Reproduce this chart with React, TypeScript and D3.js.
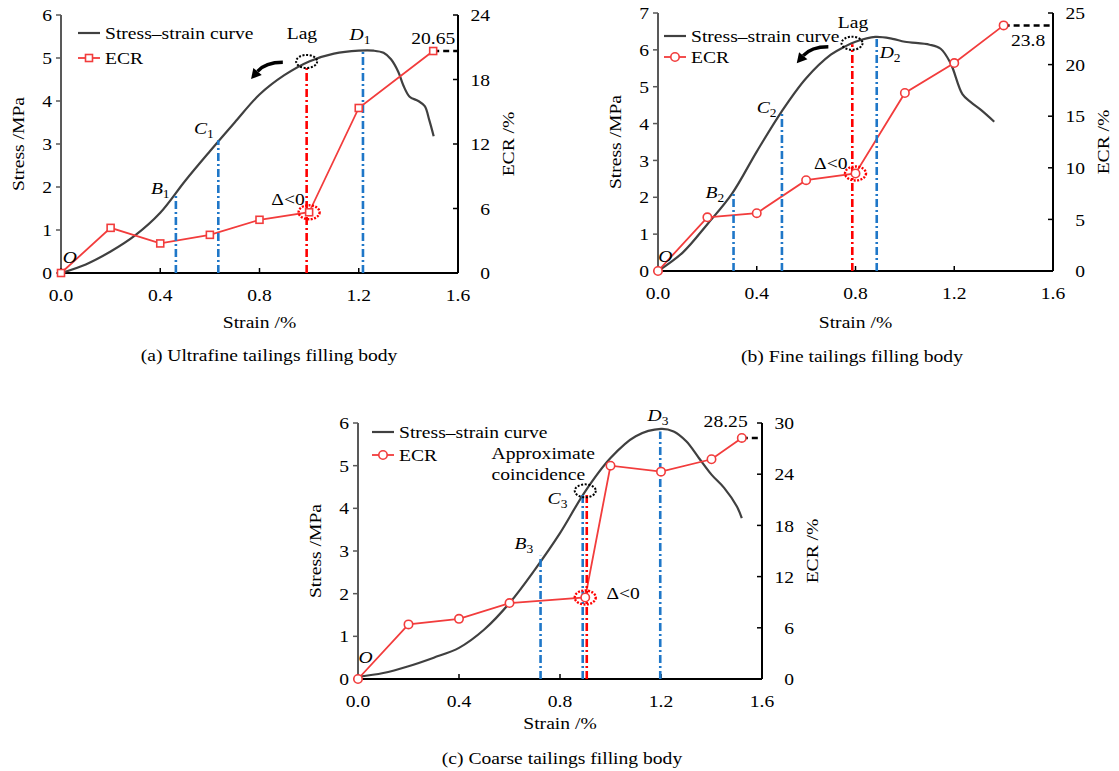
import React from "react";
import * as d3 from "d3";

// ---- data ----
const strainTicks = [0, 0.4, 0.8, 1.2, 1.6];

// (a) ultrafine
const stressA: [number, number][] = [
  [0, 0], [0.1, 0.2], [0.2, 0.5], [0.3, 0.88], [0.4, 1.4], [0.5, 2.14], [0.6, 2.83],
  [0.7, 3.5], [0.8, 4.15], [0.9, 4.6], [1.0, 4.92], [1.1, 5.1], [1.2, 5.17], [1.26, 5.17],
  [1.3, 5.12], [1.33, 4.97], [1.36, 4.67], [1.38, 4.36], [1.405, 4.1], [1.44, 4.0],
  [1.466, 3.88], [1.484, 3.56], [1.502, 3.18],
];
const ecrStrainA = [0, 0.2, 0.4, 0.6, 0.8, 1.0, 1.2, 1.5];
const ecrA = [0, 4.2, 2.75, 3.55, 4.95, 5.65, 15.35, 20.65];
const stressTicksA = [0, 1, 2, 3, 4, 5, 6];
const ecrTicksA = [0, 6, 12, 18, 24];

// (b) fine
const stressB: [number, number][] = [
  [0, 0], [0.1, 0.5], [0.2, 1.27], [0.3, 2.1], [0.4, 3.24], [0.5, 4.32], [0.6, 5.23],
  [0.7, 5.87], [0.757, 6.09], [0.8, 6.22], [0.88, 6.35], [0.95, 6.3], [1.0, 6.22],
  [1.1, 6.14], [1.145, 6.03], [1.185, 5.64], [1.233, 4.8], [1.267, 4.58], [1.308, 4.37],
  [1.362, 4.05],
];
const ecrStrainB = [0, 0.2, 0.4, 0.6, 0.8, 1.0, 1.2, 1.4];
const ecrB = [0, 5.2, 5.6, 8.8, 9.45, 17.25, 20.15, 23.8];
const stressTicksB = [0, 1, 2, 3, 4, 5, 6, 7];
const ecrTicksB = [0, 5, 10, 15, 20, 25];

// (c) coarse
const stressC: [number, number][] = [
  [0, 0.05], [0.1, 0.14], [0.2, 0.3], [0.3, 0.5], [0.4, 0.73], [0.5, 1.16], [0.6, 1.78],
  [0.7, 2.56], [0.8, 3.42], [0.9, 4.4], [1.0, 5.18], [1.1, 5.69], [1.2, 5.86], [1.25, 5.8],
  [1.3, 5.57], [1.35, 5.18], [1.4, 4.79], [1.45, 4.48], [1.5, 4.05], [1.52, 3.77],
];
const ecrStrainC = [0, 0.2, 0.4, 0.6, 0.9, 1.0, 1.2, 1.4, 1.52];
const ecrC = [0, 6.4, 7.05, 8.9, 9.55, 25.0, 24.3, 25.75, 28.25];
const stressTicksC = [0, 1, 2, 3, 4, 5, 6];
const ecrTicksC = [0, 6, 12, 18, 24, 30];

// stage lines: strain, stress at top, lag?
const guidesA = [[0.463, 1.82, 0], [0.634, 3.09, 0], [0.99, 4.8, 1], [1.217, 5.17, 0]];
const guidesB = [[0.306, 2.1, 0], [0.502, 4.34, 0], [0.787, 6.15, 1], [0.886, 6.35, 0]];
const guidesC = [[0.723, 2.89, 0], [0.89, 4.35, 0], [0.906, 4.38, 1], [1.197, 5.8, 0]];

type Lbl = { t: string; sub?: string; it?: boolean; s: number; v: number; start?: boolean };
const labelsA: Lbl[] = [
  { t: "Lag", s: 0.971, v: 5.58 },
  { t: "D", sub: "1", it: true, s: 1.205, v: 5.56 },
  { t: "C", sub: "1", it: true, s: 0.576, v: 3.37 },
  { t: "B", sub: "1", it: true, s: 0.4, v: 1.98 },
  { t: "Δ<0", s: 0.915, v: 1.72 },
  { t: "O", it: true, s: 0.036, v: 0.37 },
  { t: "20.65", s: 1.5, v: 5.47 },
];
const labelsB: Lbl[] = [
  { t: "Lag", s: 0.79, v: 6.76 },
  { t: "D", sub: "2", it: true, s: 0.94, v: 5.94 },
  { t: "C", sub: "2", it: true, s: 0.44, v: 4.45 },
  { t: "B", sub: "2", it: true, s: 0.23, v: 2.14 },
  { t: "Δ<0", s: 0.7, v: 2.93 },
  { t: "O", it: true, s: 0.03, v: 0.41 },
  { t: "23.8", s: 1.499, v: 6.27 },
];
const labelsC: Lbl[] = [
  { t: "D", sub: "3", it: true, s: 1.188, v: 6.2 },
  { t: "28.25", s: 1.456, v: 6.06 },
  { t: "Approximate", s: 0.529, v: 5.31, start: true },
  { t: "coincidence", s: 0.529, v: 4.81, start: true },
  { t: "C", sub: "3", it: true, s: 0.79, v: 4.25 },
  { t: "B", sub: "3", it: true, s: 0.657, v: 3.19 },
  { t: "Δ<0", s: 1.05, v: 2.02 },
  { t: "O", it: true, s: 0.03, v: 0.52 },
];

const FONT = "'Liberation Serif', 'Times New Roman', serif";
const SX = 1.12;
const RED = "#f23c3c";
const BLUE = "#1f77c8";
const GREY = "#404040";

function T({ x, y, children, anchor = "middle", size = 17.5, rot = 0, italic = false }: any) {
  return (
    <text
      transform={`translate(${x},${y})${rot ? ` rotate(${rot})` : ""} scale(${SX},1)`}
      textAnchor={anchor}
      dy="0.35em"
      fontSize={size}
      fontFamily={FONT}
      fontStyle={italic ? "italic" : "normal"}
      fill="#000"
    >
      {children}
    </text>
  );
}

function Arrow({ from, to }: { from: number[]; to: number[] }) {
  const ctrl = [to[0] + (from[0] - to[0]) * 0.45, from[1]];
  const ang = Math.atan2(to[1] - ctrl[1], to[0] - ctrl[0]);
  const hb = [to[0] - 10 * Math.cos(ang), to[1] - 10 * Math.sin(ang)];
  const px = -Math.sin(ang), py = Math.cos(ang);
  return (
    <g>
      <path d={`M${from[0]},${from[1]} Q${ctrl[0]},${ctrl[1]} ${hb[0]},${hb[1]}`} fill="none" stroke="#000" strokeWidth={3.5} />
      <polygon points={`${to[0]},${to[1]} ${hb[0] + px * 5.5},${hb[1] + py * 5.5} ${hb[0] - px * 5.5},${hb[1] - py * 5.5}`} fill="#000" />
    </g>
  );
}

function Panel(p: any) {
  const { x0, x1, yb, yt } = p.box;
  const x = d3.scaleLinear().domain([0, 1.6]).range([x0, x1]);
  const y = d3.scaleLinear().domain([0, p.stressMax]).range([yb, yt]);
  const y2 = d3.scaleLinear().domain([0, p.ecrMax]).range([yb, yt]);
  const curve = d3.line<[number, number]>().x((d) => x(d[0])).y((d) => y(d[1])).curve(d3.curveCatmullRom.alpha(0.5));
  const ecrPts = p.ecrS.map((s: number, i: number) => [s, p.ecr[i]]);
  const ecrLine = d3.line<number[]>().x((d) => x(d[0])).y((d) => y2(d[1]));
  const last = ecrPts[ecrPts.length - 1];
  const lagS = p.lagEllipse;
  const dl = p.deltaAt;
  const marker = (d: number[], i: number) =>
    p.square ? (
      <rect key={i} x={x(d[0]) - 3.5} y={y2(d[1]) - 3.5} width={7} height={7} fill="#fff" stroke={RED} strokeWidth={1.6} />
    ) : (
      <circle key={i} cx={x(d[0])} cy={y2(d[1])} r={4.2} fill="#fff" stroke={RED} strokeWidth={1.6} />
    );
  const lg = p.legend;
  return (
    <g>
      {/* axes */}
      <line x1={x0} x2={x0} y1={yt} y2={yb} stroke="#595959" strokeWidth={2} />
      {p.stressTicks.map((t: number) => (
        <g key={"l" + t}>
          <line x1={x0 - 5} x2={x0} y1={y(t)} y2={y(t)} stroke="#595959" strokeWidth={1.5} />
          <T x={x0 - 9} y={y(t)} anchor="end">{t}</T>
        </g>
      ))}
      <line x1={x0} x2={x1} y1={yb} y2={yb} stroke="#000" strokeWidth={2} />
      {strainTicks.map((t) => (
        <g key={"b" + t}>
          <line x1={x(t)} x2={x(t)} y1={yb} y2={yb - 5} stroke="#000" strokeWidth={1.5} />
          <T x={x(t)} y={yb + 22}>{d3.format(".1f")(t)}</T>
        </g>
      ))}
      <line x1={x1} x2={x1} y1={yt} y2={yb} stroke="#000" strokeWidth={2} />
      {p.ecrTicks.map((t: number) => (
        <g key={"r" + t}>
          <line x1={x1 - 5} x2={x1} y1={y2(t)} y2={y2(t)} stroke="#000" strokeWidth={1.5} />
          <T x={x1 + 32} y={y2(t)} anchor="end">{t}</T>
        </g>
      ))}
      <T x={x0 - 43} y={(yt + yb) / 2} rot={-90}>Stress /MPa</T>
      <T x={x1 + 50} y={(yt + yb) / 2} rot={-90}>ECR /%</T>
      <T x={(x0 + x1) / 2} y={yb + p.titleGap}>Strain /%</T>
      <T x={p.capX} y={p.capY}>{p.caption}</T>

      {/* curves */}
      <path d={curve(p.stress) || ""} fill="none" stroke={GREY} strokeWidth={2.2} />
      <path d={ecrLine(ecrPts) || ""} fill="none" stroke={RED} strokeWidth={1.8} />
      {p.guides.map((g: number[], i: number) => (
        <line key={"g" + i} x1={x(g[0])} x2={x(g[0])} y1={yb} y2={y(g[1])}
          stroke={g[2] ? "#ff0000" : BLUE} strokeWidth={2.6} strokeDasharray="8 3 2 3" />
      ))}
      <line x1={x(last[0])} x2={x1} y1={y2(last[1])} y2={y2(last[1])} stroke="#000" strokeWidth={2.5} strokeDasharray="6 4" />
      {ecrPts.map(marker)}
      <ellipse cx={x(lagS[0])} cy={y(lagS[1])} rx={10.5} ry={6.5} fill="none" stroke="#000" strokeWidth={2} strokeDasharray="2 1.6" />
      <ellipse cx={x(dl[0])} cy={y2(dl[1])} rx={10.5} ry={7} fill="none" stroke="#ff0000" strokeWidth={2.4} strokeDasharray="2 1.4" />
      {p.arrow && (
        <Arrow from={[x(p.arrow[0][0]), y(p.arrow[0][1])]} to={[x(p.arrow[1][0]), y(p.arrow[1][1])]} />
      )}

      {p.labels.map((l: Lbl, i: number) => (
        <T key={"t" + i} x={x(l.s)} y={y(l.v)} italic={l.it} anchor={l.start ? "start" : "middle"}>
          {l.t}
          {l.sub && <tspan fontStyle="normal" fontSize={12} dy={4}>{l.sub}</tspan>}
        </T>
      ))}

      {/* legend */}
      <line x1={lg[0]} x2={lg[0] + 22} y1={lg[1]} y2={lg[1]} stroke={GREY} strokeWidth={2.2} />
      <T x={lg[0] + 27} y={lg[1]} anchor="start">Stress–strain curve</T>
      <line x1={lg[0]} x2={lg[0] + 22} y1={lg[1] + lg[2]} y2={lg[1] + lg[2]} stroke={RED} strokeWidth={1.8} />
      {p.square ? (
        <rect x={lg[0] + 7.5} y={lg[1] + lg[2] - 3.5} width={7} height={7} fill="#fff" stroke={RED} strokeWidth={1.6} />
      ) : (
        <circle cx={lg[0] + 11} cy={lg[1] + lg[2]} r={4.2} fill="#fff" stroke={RED} strokeWidth={1.6} />
      )}
      <T x={lg[0] + 27} y={lg[1] + lg[2]} anchor="start">ECR</T>
    </g>
  );
}

export default function App() {
  return (
    <svg width={1119} height={771} style={{ position: "absolute", left: 0, top: 0, background: "#fff" }}>
      <rect width={1119} height={771} fill="#fff" />
      <Panel box={{ x0: 61, x1: 458, yb: 273, yt: 15 }} stressMax={6} ecrMax={24}
        stressTicks={stressTicksA} ecrTicks={ecrTicksA} stress={stressA} ecrS={ecrStrainA} ecr={ecrA}
        square guides={guidesA} labels={labelsA} lagEllipse={[0.99, 4.92]} deltaAt={[1.0, 5.65]}
        arrow={[[0.894, 4.9], [0.766, 4.51]]} legend={[78, 33, 25]} titleGap={49}
        caption="(a) Ultrafine tailings filling body" capX={269} capY={355} />
      <Panel box={{ x0: 658, x1: 1053, yb: 271, yt: 13 }} stressMax={7} ecrMax={25}
        stressTicks={stressTicksB} ecrTicks={ecrTicksB} stress={stressB} ecrS={ecrStrainB} ecr={ecrB}
        guides={guidesB} labels={labelsB} lagEllipse={[0.786, 6.18]} deltaAt={[0.8, 9.45]}
        arrow={[[0.69, 6.085], [0.562, 5.635]]} legend={[664, 36, 21]} titleGap={51}
        caption="(b) Fine tailings filling body" capX={852} capY={356} />
      <Panel box={{ x0: 358, x1: 762, yb: 679, yt: 423 }} stressMax={6} ecrMax={30}
        stressTicks={stressTicksC} ecrTicks={ecrTicksC} stress={stressC} ecrS={ecrStrainC} ecr={ecrC}
        guides={guidesC} labels={labelsC} lagEllipse={[0.9, 4.41]} deltaAt={[0.9, 9.55]}
        arrow={null} legend={[372, 432, 23]} titleGap={44}
        caption="(c) Coarse tailings filling body" capX={562} capY={758} />
    </svg>
  );
}
